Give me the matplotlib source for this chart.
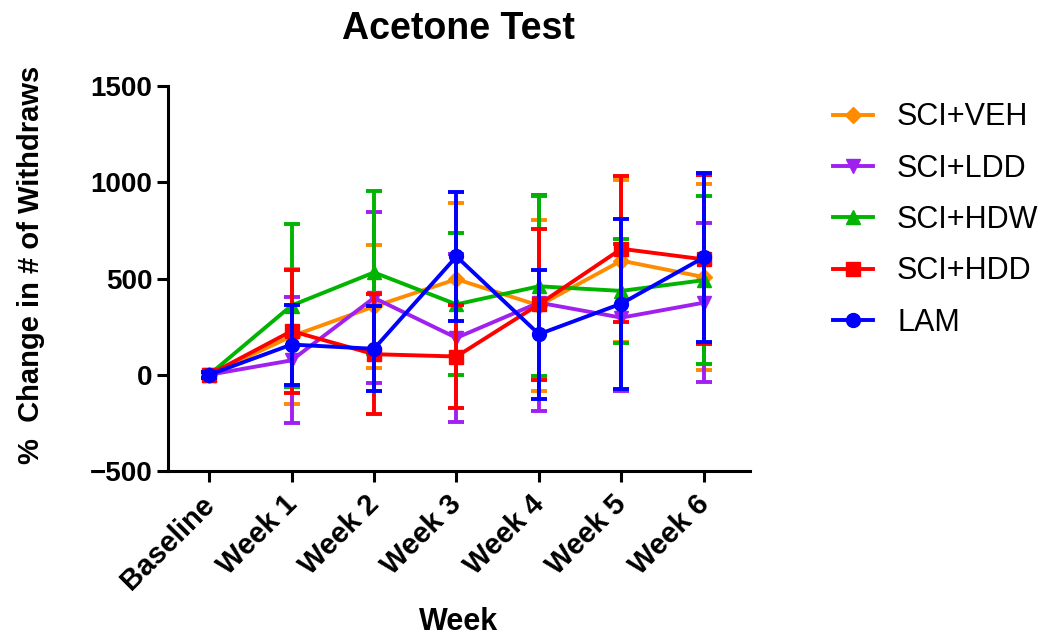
import numpy as np
import matplotlib
matplotlib.use("Agg")
import matplotlib.pyplot as plt
import matplotlib.transforms as mtrans
from matplotlib.lines import Line2D

plt.rcParams['font.family'] = ['Liberation Sans', 'DejaVu Sans']

# weeks on the x axis
weeks = ["Baseline", "Week 1", "Week 2", "Week 3", "Week 4", "Week 5", "Week 6"]

# group means (% change)
veh_mean = [0, 200, 355, 497, 360, 593, 508]
ldd_mean = [0, 75, 400, 192, 375, 297, 375]
hdw_mean = [0, 360, 532, 366, 460, 436, 492]
hdd_mean = [0, 227, 107, 95, 366, 655, 600]
lam_mean = [0, 157, 135, 615, 211, 370, 610]

# error bars (SEM)
veh_err = [15, 350, 322, 397, 445, 421, 482]
ldd_err = [15, 328, 445, 435, 561, 383, 413]
hdw_err = [15, 424, 426, 369, 468, 270, 435]
hdd_err = [15, 320, 312, 270, 392, 380, 440]
lam_err = [15, 208, 220, 335, 335, 442, 440]

names = ["SCI+VEH", "SCI+LDD", "SCI+HDW", "SCI+HDD", "LAM"]
colors = ["#FF8C00", "#A020F0", "#00B400", "#FF0000", "#0000FF"]
markers = ["D", "v", "^", "s", "o"]
means = [veh_mean, ldd_mean, hdw_mean, hdd_mean, lam_mean]
errs = [veh_err, ldd_err, hdw_err, hdd_err, lam_err]

fig = plt.figure(figsize=(10.49, 6.39), dpi=100)
ax = fig.add_axes([0.160, 0.263, 0.555, 0.602])

x = np.arange(len(weeks))
handles = []
for i in range(len(names)):
    ms = 8 if markers[i] == "D" else 10
    ax.errorbar(x, means[i], yerr=errs[i], color=colors[i], marker=markers[i],
                markersize=ms, linewidth=2.8, elinewidth=2.8, capsize=6,
                capthick=2.8, zorder=2 + i)
    handles.append(Line2D([], [], color=colors[i], marker=markers[i],
                          markersize=ms, linewidth=2.8, label=names[i]))

ax.set_xlim(-0.5, 6.56)
ax.set_ylim(-500, 1500)
ax.set_yticks([-500, 0, 500, 1000, 1500])
ax.set_xticks(x)
ax.set_xticklabels(weeks, rotation=45, ha="right", rotation_mode="anchor")

for s in ["top", "right"]:
    ax.spines[s].set_visible(False)
for s in ["left", "bottom"]:
    ax.spines[s].set_linewidth(2.2)
ax.tick_params(direction="out", length=8, width=2.2, pad=3)
ax.tick_params(axis="y", labelsize=20)
ax.tick_params(axis="x", labelsize=21, pad=6)
shift = mtrans.ScaledTranslation(-0.09, 0, fig.dpi_scale_trans)
for lbl in ax.get_xticklabels():
    lbl.set_fontweight("bold")
    lbl.set_transform(lbl.get_transform() + shift)
for lbl in ax.get_yticklabels():
    lbl.set_fontweight("bold")

ax.set_title("Acetone Test", fontsize=27, fontweight="bold", pad=34)
ax.set_xlabel("Week", fontsize=22, fontweight="bold")
ax.xaxis.set_label_coords(0.5, -0.354)
ax.set_ylabel("%  Change in # of Withdraws", fontsize=21, fontweight="bold")
ax.yaxis.set_label_coords(-0.211, 0.535)

fig.legend(handles=handles, loc="upper left", bbox_to_anchor=(0.794, 0.840),
           frameon=False, fontsize=22, handlelength=1.3, labelspacing=0.7,
           handletextpad=0.8, borderpad=0, borderaxespad=0)

plt.savefig("out.png", dpi=100)
